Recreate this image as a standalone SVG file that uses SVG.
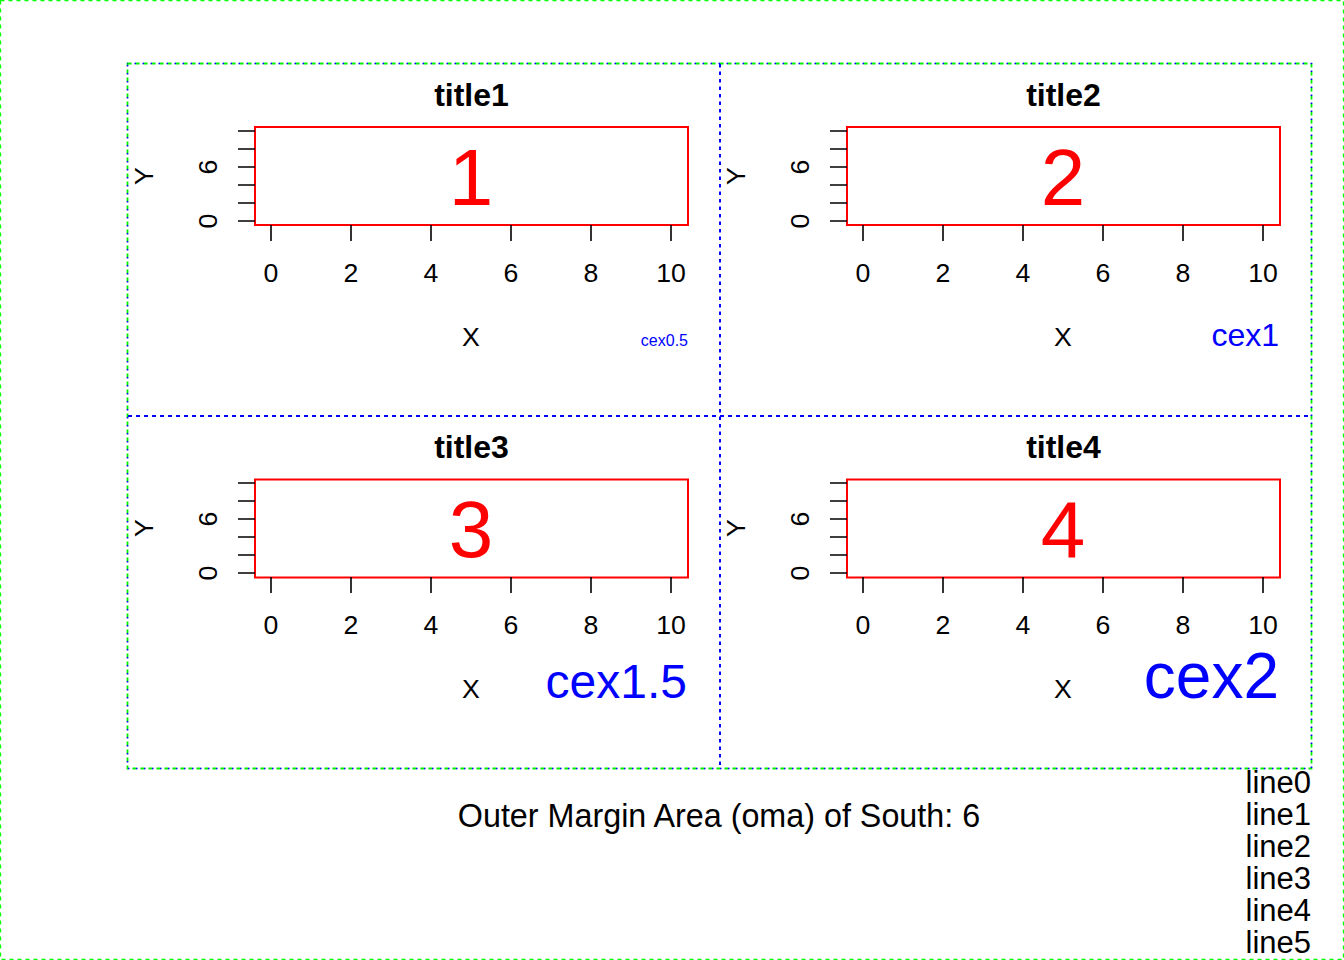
<svg xmlns="http://www.w3.org/2000/svg" width="1344" height="960" viewBox="0 0 1344 960">
<style>
text{font-family:"Liberation Sans",Arial,Helvetica,sans-serif;fill:#000}
.title{font-size:32px;font-weight:bold;text-anchor:middle}
.tl{font-size:26.67px;text-anchor:middle}
.lab{font-size:26.67px;text-anchor:middle}
.big{font-size:80px;fill:#FF0000;text-anchor:middle}
.cex{fill:#0000FF;text-anchor:end}
.oma{font-size:32.3px}
.ln{font-size:31px;text-anchor:end}
.box{fill:none;stroke:#FF0000;stroke-width:2}
.tick{fill:none;stroke:#000;stroke-width:1.6}
.grn{fill:none;stroke:#00FF00;stroke-width:1.3;stroke-dasharray:4 4}
.ig{fill:none;stroke:#00EE00;stroke-width:1.8;stroke-dasharray:4 4}
.bdot{fill:none;stroke:#0000FF;stroke-width:1.6;stroke-dasharray:1.5 6.5;stroke-dashoffset:1}
.vdiv{fill:none;stroke:#0000FF;stroke-width:2;stroke-dasharray:3.5 4}
.hdiv{fill:none;stroke:#0000FF;stroke-width:2;stroke-dasharray:4 4}
</style>
<rect width="1344" height="960" fill="#FFFFFF"/>
<g id="borders">
<rect class="grn" x="0.5" y="0.5" width="1343" height="959"/>
<rect class="ig" x="127.5" y="63.5" width="1184" height="705"/>
<rect class="bdot" x="127.5" y="63.5" width="1184" height="705"/>
<line class="vdiv" x1="720" y1="64" x2="720" y2="768"/>
<line class="hdiv" x1="128" y1="416" x2="1311" y2="416"/>
</g>
<g id="panel1">
<text class="title" x="471.5" y="106">title1</text>
<rect class="box" x="255" y="127" width="433" height="98"/>
<path class="tick" d="M238 131H255M238 149H255M238 167H255M238 185H255M238 203H255M238 221H255M271 225V241M351 225V241M431 225V241M511 225V241M591 225V241M671 225V241"/>
<text class="tl" transform="translate(217,221) rotate(-90)">0</text>
<text class="tl" transform="translate(217,167) rotate(-90)">6</text>
<text class="lab" transform="translate(153,176) rotate(-90)">Y</text>
<text class="tl" x="271" y="282">0</text><text class="tl" x="351" y="282">2</text><text class="tl" x="431" y="282">4</text><text class="tl" x="511" y="282">6</text><text class="tl" x="591" y="282">8</text><text class="tl" x="671" y="282">10</text>
<text class="lab" x="471" y="346">X</text>
<text class="big" x="471" y="205">1</text>
<text class="cex" x="688" y="346" font-size="16px">cex0.5</text>
</g>
<g id="panel2">
<text class="title" x="1063.5" y="106">title2</text>
<rect class="box" x="847" y="127" width="433" height="98"/>
<path class="tick" d="M830 131H847M830 149H847M830 167H847M830 185H847M830 203H847M830 221H847M863 225V241M943 225V241M1023 225V241M1103 225V241M1183 225V241M1263 225V241"/>
<text class="tl" transform="translate(809,221) rotate(-90)">0</text>
<text class="tl" transform="translate(809,167) rotate(-90)">6</text>
<text class="lab" transform="translate(745,176) rotate(-90)">Y</text>
<text class="tl" x="863" y="282">0</text><text class="tl" x="943" y="282">2</text><text class="tl" x="1023" y="282">4</text><text class="tl" x="1103" y="282">6</text><text class="tl" x="1183" y="282">8</text><text class="tl" x="1263" y="282">10</text>
<text class="lab" x="1063" y="346">X</text>
<text class="big" x="1063" y="205">2</text>
<text class="cex" x="1279" y="346" font-size="32px">cex1</text>
</g>
<g id="panel3">
<text class="title" x="471.5" y="458">title3</text>
<rect class="box" x="255" y="479.5" width="433" height="98"/>
<path class="tick" d="M238 483H255M238 501H255M238 519H255M238 537H255M238 555H255M238 573H255M271 577V593M351 577V593M431 577V593M511 577V593M591 577V593M671 577V593"/>
<text class="tl" transform="translate(217,573) rotate(-90)">0</text>
<text class="tl" transform="translate(217,519) rotate(-90)">6</text>
<text class="lab" transform="translate(153,528) rotate(-90)">Y</text>
<text class="tl" x="271" y="634">0</text><text class="tl" x="351" y="634">2</text><text class="tl" x="431" y="634">4</text><text class="tl" x="511" y="634">6</text><text class="tl" x="591" y="634">8</text><text class="tl" x="671" y="634">10</text>
<text class="lab" x="471" y="698">X</text>
<text class="big" x="471" y="557">3</text>
<text class="cex" x="687" y="698" font-size="48px">cex1.5</text>
</g>
<g id="panel4">
<text class="title" x="1063.5" y="458">title4</text>
<rect class="box" x="847" y="479.5" width="433" height="98"/>
<path class="tick" d="M830 483H847M830 501H847M830 519H847M830 537H847M830 555H847M830 573H847M863 577V593M943 577V593M1023 577V593M1103 577V593M1183 577V593M1263 577V593"/>
<text class="tl" transform="translate(809,573) rotate(-90)">0</text>
<text class="tl" transform="translate(809,519) rotate(-90)">6</text>
<text class="lab" transform="translate(745,528) rotate(-90)">Y</text>
<text class="tl" x="863" y="634">0</text><text class="tl" x="943" y="634">2</text><text class="tl" x="1023" y="634">4</text><text class="tl" x="1103" y="634">6</text><text class="tl" x="1183" y="634">8</text><text class="tl" x="1263" y="634">10</text>
<text class="lab" x="1063" y="698">X</text>
<text class="big" x="1063" y="557">4</text>
<text class="cex" x="1279" y="698" font-size="64px">cex2</text>
</g>
<g id="outer-margin">
<text class="oma" x="719" y="827" text-anchor="middle">Outer Margin Area (oma) of South: 6</text>
<text class="ln" x="1311" y="793">line0</text>
<text class="ln" x="1311" y="825">line1</text>
<text class="ln" x="1311" y="857">line2</text>
<text class="ln" x="1311" y="889">line3</text>
<text class="ln" x="1311" y="921">line4</text>
<text class="ln" x="1311" y="953">line5</text>
</g>
</svg>
